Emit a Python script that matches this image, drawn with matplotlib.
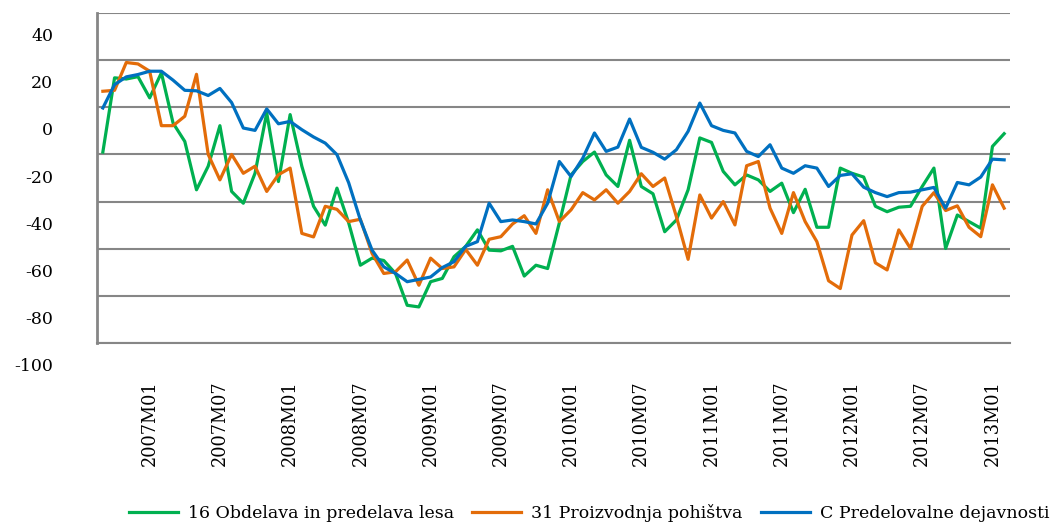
import matplotlib.pyplot as plt
import numpy as np

green = '#00B050'
orange = '#E36C09'
blue = '#0070C0'
grid_grey = '#868686'

# monthly categories 2006M09 .. 2013M02
months = ['%dM%02d' % (2006 + (8 + k) // 12, (8 + k) % 12 + 1) for k in range(78)]

obdelava_lesa = [
    -9, 22.5, 22, 23, 14, 24.6, 3.3, -4.5, -25, -15,
    2.2, -25.7, -30.7, -18, 7.6, -21.5, 6.9, -15, -32, -40,
    -24.3, -39, -57, -54, -55, -60.5, -74, -74.7, -64, -62.6,
    -53.4, -49, -42, -50.6, -50.9, -49, -61.6, -57, -58.4, -39,
    -18.7, -13, -9, -18.7, -23.6, -4, -23.6, -26.7, -42.8, -37.8,
    -25, -3, -4.9, -17.2, -22.9, -18.7, -20.8, -25.7, -22.2, -34.7,
    -24.8, -40.9, -40.9, -15.8, -18, -19.6, -32, -34.3, -32.4, -32,
    -23.6, -15.8, -49.9, -35.7, -38.5, -41.3, -6.6, -1.2]

pohistvo = [
    16.8, 17.2, 29, 28.4, 25.3, 2.2, 2.2, 6.2, 24, -10,
    -20.8, -10, -18, -15, -25.7, -18.6, -15.8, -43.5, -45, -32,
    -33.3, -38.5, -37.5, -52, -60.5, -59.8, -54.8, -65.5, -54, -58.4,
    -57.7, -50.3, -57, -46, -44.9, -39.5, -36, -43.5, -25, -38.5,
    -33.5, -26.2, -29.3, -25, -30.7, -25.7, -18.2, -23.6, -20, -36.4,
    -54.5, -27.2, -37, -30, -39.9, -14.8, -13, -32.8, -43.5, -26.2,
    -38.5, -47, -63.6, -66.9, -44.2, -38.1, -56, -59, -42, -49.9,
    -32, -26.2, -33.8, -31.8, -40.9, -44.9, -22.9, -32.8]

predelovalne = [
    9.7, 19.6, 22.9, 23.9, 25.3, 25.3, 21.5, 17.2, 17, 15,
    18, 12, 1.2, 0.2, 9.3, 3, 4, 0.5, -2.6, -5.2,
    -10.1, -22, -37.8, -50.6, -57.7, -60.5, -64, -63, -62, -58,
    -55.5, -49, -47, -30.7, -38.5, -37.8, -38.5, -39.5, -30.7, -13,
    -19.4, -11.6, -0.9, -8.7, -6.9, 5, -7, -9.1, -12, -8,
    -0.2, 11.8, 2.2, 0.2, -0.9, -8.7, -10.9, -5.9, -15.8, -18,
    -14.8, -15.8, -23.6, -18.9, -18.2, -23.9, -26.2, -27.9, -26.2, -26,
    -25, -24, -32.8, -21.9, -22.9, -19.6, -12, -12.3]

names = ['16 Obdelava in predelava lesa', '31 Proizvodnja pohištva',
         'C Predelovalne dejavnosti']
y_labels = [40, 20, 0, -20, -40, -60, -80, -100]

plt.rc('font', family='DejaVu Serif')

fig = plt.figure(figsize=(10.54, 5.22), dpi=100)
ax = fig.add_axes([97 / 1054, 1 - 343 / 522, 913 / 1054, 330 / 522])

xs = np.arange(len(months))
ax.plot(xs, obdelava_lesa, color=green, linewidth=2.3, label=names[0])
ax.plot(xs, pohistvo, color=orange, linewidth=2.3, label=names[1])
ax.plot(xs, predelovalne, color=blue, linewidth=2.3, label=names[2])

ax.set_xlim(-0.5, len(months) - 0.5)
ax.set_ylim(-90, 50)
ax.set_yticks(np.arange(-90, 51, 20))
ax.yaxis.grid(True, color=grid_grey, linewidth=1.5)
ax.set_axisbelow(True)
ax.tick_params(axis='y', length=0, labelleft=False)

# the value labels sit between the grid lines, as in the source
for v in y_labels:
    ax.text(-44 / 913, v, str(v), transform=ax.get_yaxis_transform(),
            ha='right', va='center', fontsize=12.5, clip_on=False)

tick_idx = [i for i, m in enumerate(months) if m.endswith('M01') or m.endswith('M07')]
ax.set_xticks(tick_idx)
ax.set_xticklabels([months[i] for i in tick_idx], rotation=90, fontsize=12.8)
ax.tick_params(axis='x', length=0, pad=27)

for s in ['top', 'right']:
    ax.spines[s].set_visible(False)
ax.spines['left'].set_color(grid_grey)
ax.spines['left'].set_linewidth(2)
ax.spines['bottom'].set_color(grid_grey)
ax.spines['bottom'].set_linewidth(1.5)

fig.legend(loc='center', bbox_to_anchor=(0.559, 0.018), ncol=3, frameon=False,
           fontsize=12.5, handlelength=2.8, handletextpad=0.6, columnspacing=1.05)

plt.savefig('out.png', dpi=100)
